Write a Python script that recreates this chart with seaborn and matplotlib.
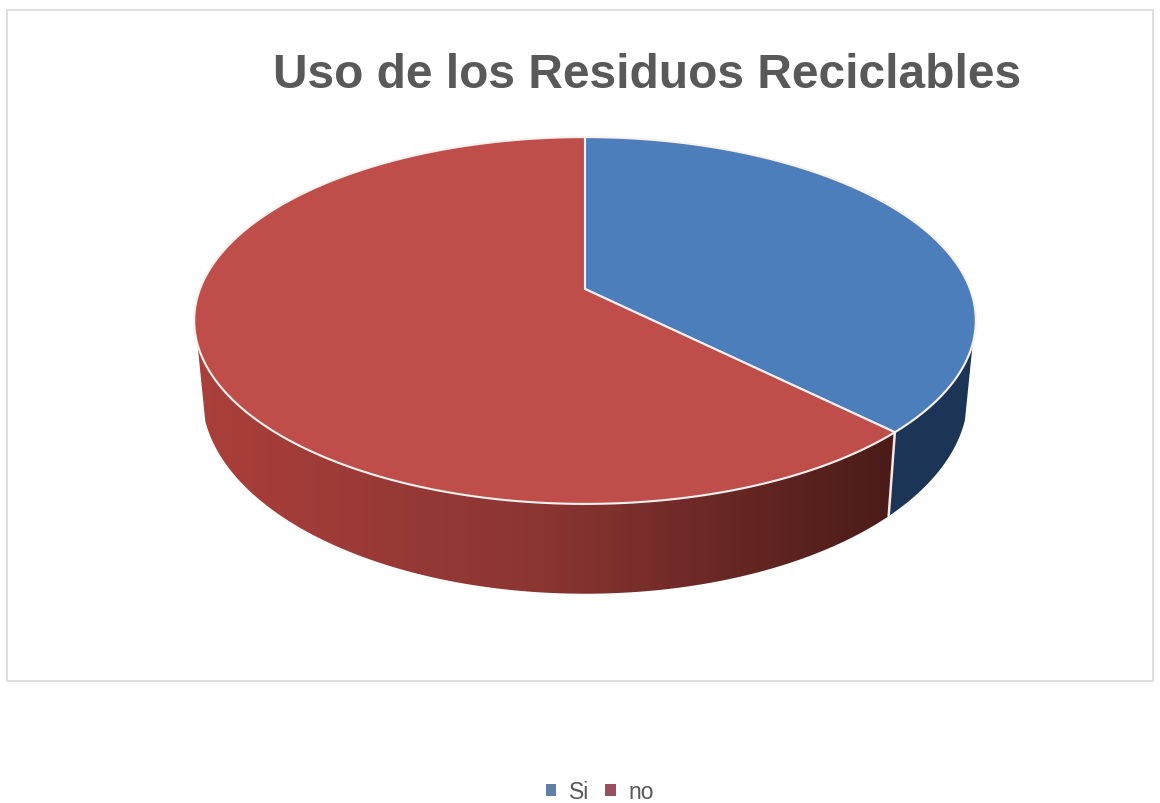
import numpy as np
import matplotlib
matplotlib.use("Agg")
import matplotlib.pyplot as plt
import seaborn as sns
from matplotlib.patches import Patch, Polygon, Rectangle
from matplotlib.colors import LinearSegmentedColormap

categories = ["Si", "no"]
values = [37.5, 62.5]
title = "Uso de los Residuos Reciclables"

top_colors = ["#4d7ebc", "#bf4e4b"]
legend_colors = ["#5f7fa8", "#9a4f60"]
wall_colors = [["#1c3557", "#1c3557"], ["#aa3f3b", "#8a3532", "#4a1b18"]]

# pixel geometry of the disc
cx, cy = 585, 290
a0, b0, k = 385, 178, 0.1717
drop, shrink_x, stretch_y = 72, 0.98, 1.083


def project(theta, sx=1.0, sy=1.0, dy=0.0):
    # circle seen in perspective, far side is squeezed
    x = np.cos(np.radians(theta))
    y = np.sin(np.radians(theta))
    w = 1 + k * y
    return cx + sx * a0 * x / w, cy + dy - sy * b0 * y / w


sns.set_theme(style="white")
plt.rcParams["font.family"] = ["Liberation Sans", "DejaVu Sans"]

fig = plt.figure(figsize=(11.6, 8.04), dpi=100)
ax = fig.add_axes([0, 0, 1, 1])

wedges, _ = ax.pie(values, startangle=90, counterclock=False, frame=True)
angles = [(w.theta1, w.theta2) for w in wedges]
for w in wedges:
    w.set_visible(False)

ax.add_patch(Rectangle((7, 11), 1146, 671, fc="white", ec="#d9d9d9", lw=1.2))

# side walls, only the part of the rim that faces the viewer
for (t1, t2), cols in zip(angles, wall_colors):
    th = np.linspace(t1, t2, 400)
    th = th[np.sin(np.radians(th)) < -0.29]
    xt, yt = project(th)
    xb, yb = project(th, shrink_x, stretch_y, drop)
    band = Polygon(np.r_[np.c_[xt, yt], np.c_[xb, yb][::-1]], closed=True, fc="none", ec="none")
    ax.add_patch(band)
    cmap = LinearSegmentedColormap.from_list("wall", sns.blend_palette(cols, 64))
    im = ax.imshow(np.linspace(0, 1, 256)[None, :], cmap=cmap, aspect="auto",
                   extent=[min(xt.min(), xb.min()), max(xt.max(), xb.max()), 640, 300], zorder=2)
    im.set_clip_path(band)

# seam between the two walls
sx, sy = project(angles[0][0])
ex, ey = project(angles[0][0], shrink_x, stretch_y, drop)
ax.plot([sx, ex], [sy, ey], color="#f6e8e5", lw=1.8, zorder=3)

for (t1, t2), col in zip(angles, top_colors):
    th = np.linspace(t1, t2, 300)
    xt, yt = project(th)
    pts = np.r_[[[cx, cy]], np.c_[xt, yt]]
    ax.add_patch(Polygon(pts, closed=True, fc=col, ec="#fbf1ef", lw=1.5, zorder=4))

ax.text(647, 76, title, ha="center", va="center", fontsize=34.5, fontweight="bold", color="#595959")

handles = [Patch(fc=c, ec="none") for c in legend_colors]
ax.legend(handles, categories, loc="center", bbox_to_anchor=(600 / 1160, 1 - 793 / 804),
          ncol=2, frameon=False, fontsize=16.5, labelcolor="#595959", handlelength=0.45,
          handleheight=0.45, handletextpad=0.55, columnspacing=0.7)

ax.set_xlim(0, 1160)
ax.set_ylim(804, 0)
ax.axis("off")

fig.savefig("out.png", dpi=100, facecolor="white")
